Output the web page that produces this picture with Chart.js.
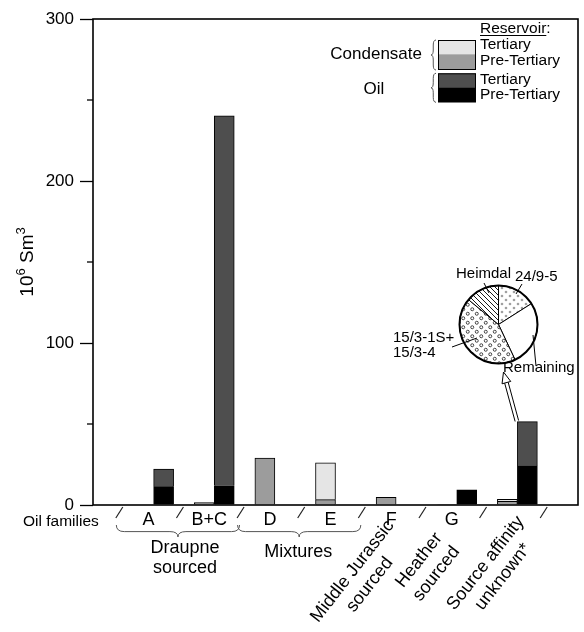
<!DOCTYPE html>
<html>
<head>
<meta charset="utf-8">
<script src="https://cdn.jsdelivr.net/npm/chart.js@4.4.1/dist/chart.umd.min.js"></script>
<style>
    html, body { margin: 0; padding: 0; background: #fff; }
    #wrap { position: relative; width: 584px; height: 632px; }
    #main { position: absolute; left: 0; top: 0; }
    #pie  { position: absolute; left: 380px; top: 262px; }
</style>
</head>
<body>
<div id="wrap">
    <canvas id="main" width="584" height="632"></canvas>
    <canvas id="pie" width="204" height="120"></canvas>
</div>
<script>
(function () {
    'use strict';

    // ── data ────────────────────────────────────────────────────────────────
    var FAMILIES     = ['A', 'B+C', 'D', 'E', 'F', 'G', 'Source affinity unknown*'];
    var FAMILY_TICKS = ['A', 'B+C', 'D', 'E', 'F', 'G', ''];

    // 10^6 Sm3
    var COND_PRE_TERTIARY = [null, 1.5, 29.0, 3.3, 4.7, 0.3, 2.2];
    var COND_TERTIARY     = [null, null, null, 22.8, null, null, 1.3];
    var OIL_PRE_TERTIARY  = [11.3, 11.9, null, null, null, 9.3, 24.1];
    var OIL_TERTIARY      = [10.9, 228.4, null, null, null, null, 27.4];

    var Y_MAJOR = [0, 100, 200, 300];
    var Y_MINOR = [50, 150, 250];

    var GROUPS  = [
        { lines: ['Draupne', 'sourced'], from: 0, to: 1 },
        { lines: ['Mixtures'],           from: 2, to: 3 }
    ];
    var ROTATED = [
        { family: 4, lines: ['Middle Jurassic', 'sourced'] },
        { family: 5, lines: ['Heather', 'sourced'] },
        { family: 6, lines: ['Source affinity', 'unknown*'] }
    ];

    var LEGEND_FLUIDS     = ['Condensate', 'Oil'];
    var LEGEND_RESERVOIRS = ['Tertiary', 'Pre-Tertiary'];

    // inset pie: share of "source affinity unknown" volume (clockwise from top)
    var PIE_LABELS = ['24/9-5', 'Remaining', '15/3-1S+ 15/3-4', 'Heimdal'];
    var PIE_SHARES = [16, 27, 43, 14];

    // ── styles / layout ─────────────────────────────────────────────────────
    var FONT = '"Liberation Sans", Arial, Helvetica, sans-serif';
    var COL  = { condTert: '#e5e5e5', condPre: '#9c9c9c', oilTert: '#4e4e4e', oilPre: '#000000' };
    var ROT_POS = [ { dx: -35, y: 578 }, { dx: -29, y: 567 }, { dx: -23, y: 570 } ];

    Chart.defaults.font.family = FONT;
    Chart.defaults.color = '#000';

    function pad(arr) { return [null].concat(arr, [null]); }
    function f(size) { return size + 'px ' + FONT; }

    function hBrace(ctx, x1, x2, y, h) {
        var m = (x1 + x2) / 2, r = 8, yf = y + h * 0.55;
        ctx.beginPath();
        ctx.moveTo(x1, y);
        ctx.quadraticCurveTo(x1, yf, x1 + r, yf);
        ctx.lineTo(m - r, yf);
        ctx.quadraticCurveTo(m, yf, m, y + h);
        ctx.quadraticCurveTo(m, yf, m + r, yf);
        ctx.lineTo(x2 - r, yf);
        ctx.quadraticCurveTo(x2, yf, x2, y);
        ctx.stroke();
    }

    function vBrace(ctx, x, y1, y2, w) {
        var m = (y1 + y2) / 2, r = 5, xm = x - w * 0.55;
        ctx.beginPath();
        ctx.moveTo(x, y1);
        ctx.quadraticCurveTo(xm, y1, xm, y1 + r);
        ctx.lineTo(xm, m - r);
        ctx.quadraticCurveTo(xm, m, x - w, m);
        ctx.quadraticCurveTo(xm, m, xm, m + r);
        ctx.lineTo(xm, y2 - r);
        ctx.quadraticCurveTo(xm, y2, x, y2);
        ctx.stroke();
    }

    // ── main chart decorations ──────────────────────────────────────────────
    var decor = {
        id: 'decor',
        afterDraw: function (chart) {
            var ctx = chart.ctx, a = chart.chartArea;
            var xs = chart.scales.x, ys = chart.scales.y;
            ctx.save();

            // plot frame
            ctx.strokeStyle = '#000';
            ctx.lineWidth = 1.6;
            ctx.strokeRect(a.left, a.top, a.right - a.left, a.bottom - a.top);

            // minor y ticks
            ctx.lineWidth = 1.3;
            Y_MINOR.forEach(function (v) {
                var py = ys.getPixelForValue(v);
                ctx.beginPath(); ctx.moveTo(a.left - 6, py); ctx.lineTo(a.left, py); ctx.stroke();
            });

            // y title 10^6 Sm^3
            ctx.save();
            ctx.translate(33, (a.top + a.bottom) / 2);
            ctx.rotate(-Math.PI / 2);
            ctx.textBaseline = 'alphabetic';
            ctx.textAlign = 'left';
            var parts = [['10', 19, 0], ['6', 13, -8], [' Sm', 19, 0], ['3', 13, -8]];
            var total = 0;
            parts.forEach(function (p) { ctx.font = f(p[1]); total += ctx.measureText(p[0]).width; });
            var px = -total / 2;
            parts.forEach(function (p) {
                ctx.font = f(p[1]);
                ctx.fillText(p[0], px, p[2]);
                px += ctx.measureText(p[0]).width;
            });
            ctx.restore();

            // x axis: family labels and separators
            ctx.fillStyle = '#000';
            ctx.textBaseline = 'alphabetic';
            ctx.font = f(15.5);
            ctx.textAlign = 'left';
            ctx.fillText('Oil families', 23, 526);
            ctx.font = f(18);
            ctx.textAlign = 'center';
            FAMILY_TICKS.forEach(function (t, i) {
                if (t) ctx.fillText(t, xs.getPixelForValue(i + 1) - 5, 525);
            });
            ctx.strokeStyle = '#222';
            ctx.lineWidth = 1.2;
            for (var k = 0; k <= FAMILIES.length; k++) {
                var sx = xs.getPixelForValue(k + 0.5) - 4;
                ctx.beginPath(); ctx.moveTo(sx - 3.5, 518); ctx.lineTo(sx + 3.5, 507); ctx.stroke();
            }

            // braces + group names
            ctx.strokeStyle = '#555';
            ctx.lineWidth = 1;
            GROUPS.forEach(function (g, gi) {
                var x1 = xs.getPixelForValue(g.from + 0.5) - 7;
                var x2 = xs.getPixelForValue(g.to + 1.5) - 5;
                hBrace(ctx, x1, x2, 525, 12);
                var cx = (x1 + x2) / 2 + (gi === 0 ? 7 : -1);
                ctx.font = f(18);
                ctx.textAlign = 'center';
                g.lines.forEach(function (t, j) {
                    ctx.fillText(t, cx, (gi === 0 ? 553 : 557) + j * 20);
                });
            });

            // rotated source labels
            ROTATED.forEach(function (r, k) {
                var c = ROT_POS[k];
                ctx.save();
                ctx.translate(xs.getPixelForValue(r.family + 1) + c.dx, c.y);
                ctx.rotate(-52 * Math.PI / 180);
                ctx.font = f(18);
                ctx.textAlign = 'center';
                ctx.textBaseline = 'middle';
                r.lines.forEach(function (t, j) {
                    ctx.fillText(t, 0, (j - (r.lines.length - 1) / 2) * 22);
                });
                ctx.restore();
            });

            // hollow arrow from the "unknown" oil bar to the pie
            var bx = xs.getPixelForValue(7) - 0.5, by = 421, tx = 503.5, ty = 372;
            var dx = tx - bx, dy = ty - by, len = Math.sqrt(dx * dx + dy * dy);
            var ux = dx / len, uy = dy / len, nx = -uy, ny = ux;
            var hx = tx - ux * 11, hy = ty - uy * 11;
            ctx.strokeStyle = '#000';
            ctx.lineWidth = 1;
            ctx.beginPath();
            ctx.moveTo(bx + nx * 1.8, by + ny * 1.8); ctx.lineTo(hx + nx * 1.8, hy + ny * 1.8);
            ctx.moveTo(bx - nx * 1.8, by - ny * 1.8); ctx.lineTo(hx - nx * 1.8, hy - ny * 1.8);
            ctx.stroke();
            ctx.beginPath();
            ctx.moveTo(tx, ty);
            ctx.lineTo(hx + nx * 4.5, hy + ny * 4.5);
            ctx.lineTo(hx - nx * 4.5, hy - ny * 4.5);
            ctx.closePath();
            ctx.fillStyle = '#fff';
            ctx.fill();
            ctx.stroke();

            // legend
            var sw = [[COL.condTert, COL.condPre], [COL.oilTert, COL.oilPre]];
            var top = [40, 73.3], hh = [14.3, 15.7, 14, 15];
            ctx.fillStyle = '#000';
            ctx.font = f(15.5);
            ctx.textAlign = 'left';
            ctx.textBaseline = 'alphabetic';
            ctx.fillText('Reservoir:', 480, 33);
            var rw = ctx.measureText('Reservoir').width;
            ctx.lineWidth = 1;
            ctx.beginPath(); ctx.moveTo(480, 35.5); ctx.lineTo(480 + rw, 35.5); ctx.stroke();
            var base = [[49, 65], [84, 99]];
            LEGEND_FLUIDS.forEach(function (name, gi) {
                var y0 = top[gi];
                var h1 = hh[gi * 2], h2 = hh[gi * 2 + 1];
                ctx.fillStyle = sw[gi][0]; ctx.fillRect(438, y0, 38, h1);
                ctx.fillStyle = sw[gi][1]; ctx.fillRect(438, y0 + h1, 38, h2);
                ctx.strokeStyle = '#000';
                ctx.strokeRect(438.5, y0 + 0.5, 37, h1 + h2 - 1);
                ctx.strokeStyle = '#555';
                vBrace(ctx, 436, y0, y0 + h1 + h2, 5);
                ctx.fillStyle = '#000';
                ctx.font = f(15.5);
                ctx.textAlign = 'left';
                LEGEND_RESERVOIRS.forEach(function (r, j) { ctx.fillText(r, 480, base[gi][j]); });
                ctx.font = f(17);
                ctx.textAlign = gi === 0 ? 'right' : 'center';
                ctx.textBaseline = 'middle';
                ctx.fillText(name, gi === 0 ? 422 : 374, gi === 0 ? 54 : 89);
                ctx.textBaseline = 'alphabetic';
            });

            ctx.restore();
        }
    };

    new Chart(document.getElementById('main'), {
        type: 'bar',
        data: {
            labels: pad(FAMILIES).map(function (v) { return v || ''; }),
            datasets: [
                { label: 'Condensate, Pre-Tertiary', stack: 'cond', data: pad(COND_PRE_TERTIARY), backgroundColor: COL.condPre },
                { label: 'Condensate, Tertiary',     stack: 'cond', data: pad(COND_TERTIARY),     backgroundColor: COL.condTert },
                { label: 'Oil, Pre-Tertiary',        stack: 'oil',  data: pad(OIL_PRE_TERTIARY),  backgroundColor: COL.oilPre },
                { label: 'Oil, Tertiary',            stack: 'oil',  data: pad(OIL_TERTIARY),      backgroundColor: COL.oilTert }
            ]
        },
        options: {
            responsive: false,
            animation: false,
            events: [],
            barThickness: 20,
            borderColor: '#000',
            borderWidth: 1,
            layout: { padding: { top: 19, right: 6, left: 0, bottom: 0 } },
            plugins: { legend: { display: false }, tooltip: { enabled: false } },
            scales: {
                x: {
                    type: 'category',
                    offset: false,
                    stacked: true,
                    grid: { display: false },
                    border: { display: false },
                    ticks: { display: false },
                    afterFit: function (s) { s.height = 127; }
                },
                y: {
                    min: 0,
                    max: 300,
                    stacked: true,
                    border: { display: false },
                    grid: {
                        drawOnChartArea: false,
                        tickLength: 13,
                        tickWidth: 1.3,
                        tickColor: function (c) {
                            return Y_MAJOR.indexOf(c.tick && c.tick.value) >= 0 ? '#000' : 'rgba(0,0,0,0)';
                        }
                    },
                    ticks: {
                        stepSize: 50,
                        padding: 6,
                        font: { size: 17 },
                        color: '#000',
                        callback: function (v) { return Y_MAJOR.indexOf(v) >= 0 ? String(v) : ''; }
                    },
                    afterFit: function (s) { s.width = 93; }
                }
            }
        },
        plugins: [decor]
    });

    // ── inset pie ───────────────────────────────────────────────────────────
    function patt(w, h, draw) {
        var c = document.createElement('canvas');
        c.width = w; c.height = h;
        var g = c.getContext('2d');
        g.fillStyle = '#fff'; g.fillRect(0, 0, w, h);
        draw(g);
        return g.createPattern(c, 'repeat');
    }
    var pctx = document.getElementById('pie').getContext('2d');
    var hatch = patt(5, 5, function (g) {
        g.strokeStyle = '#000'; g.lineWidth = 0.9;
        g.beginPath();
        g.moveTo(-1, -1); g.lineTo(6, 6);
        g.moveTo(-5, 0); g.lineTo(1, 6);
        g.moveTo(4, -1); g.lineTo(7, 2);
        g.stroke();
    });
    var greyDots = patt(8, 8, function (g) {
        g.fillStyle = '#a0a0a0';
        g.beginPath(); g.arc(2, 2, 1.3, 0, Math.PI * 2); g.fill();
        g.beginPath(); g.arc(6, 6, 1.3, 0, Math.PI * 2); g.fill();
    });
    var rings = patt(9, 9, function (g) {
        g.strokeStyle = '#333'; g.lineWidth = 0.9;
        g.beginPath(); g.arc(2.25, 2.25, 1.5, 0, Math.PI * 2); g.stroke();
        g.beginPath(); g.arc(6.75, 6.75, 1.5, 0, Math.PI * 2); g.stroke();
    });

    var OFF_X = 380, OFF_Y = 262;
    var PIE_TEXT = [
        { lines: ['24/9-5'],              x: 515, y: 281, lx1: 522, ly1: 284, lx2: 516, ly2: 294 },
        { lines: ['Remaining'],           x: 503, y: 372, lx1: 536, ly1: 366, lx2: 533, ly2: 335 },
        { lines: ['15/3-1S+', '15/3-4'],  x: 393, y: 342, lx1: 452, ly1: 347, lx2: 477, ly2: 338 },
        { lines: ['Heimdal'],             x: 456, y: 278, lx1: 484, ly1: 283, lx2: 489, ly2: 293 }
    ];

    var pieDecor = {
        id: 'pieDecor',
        afterDraw: function (chart) {
            var ctx = chart.ctx, arc = chart.getDatasetMeta(0).data[0];
            ctx.save();
            ctx.strokeStyle = '#000';
            ctx.lineWidth = 2;
            ctx.beginPath(); ctx.arc(arc.x, arc.y, arc.outerRadius, 0, Math.PI * 2); ctx.stroke();
            ctx.translate(-OFF_X, -OFF_Y);
            ctx.lineWidth = 1;
            ctx.fillStyle = '#000';
            ctx.font = f(15);
            ctx.textAlign = 'left';
            ctx.textBaseline = 'alphabetic';
            PIE_TEXT.forEach(function (t) {
                ctx.beginPath(); ctx.moveTo(t.lx1, t.ly1); ctx.lineTo(t.lx2, t.ly2); ctx.stroke();
                t.lines.forEach(function (s, j) { ctx.fillText(s, t.x, t.y + j * 15); });
            });
            ctx.restore();
        }
    };

    new Chart(pctx, {
        type: 'pie',
        data: {
            labels: PIE_LABELS,
            datasets: [{
                data: PIE_SHARES,
                backgroundColor: [greyDots, '#ffffff', rings, hatch],
                borderColor: '#000',
                borderWidth: 1
            }]
        },
        options: {
            responsive: false,
            animation: false,
            events: [],
            layout: { padding: { left: 79, top: 23, right: 46, bottom: 18 } },
            plugins: { legend: { display: false }, tooltip: { enabled: false } }
        },
        plugins: [pieDecor]
    });
})();
</script>
</body>
</html>
